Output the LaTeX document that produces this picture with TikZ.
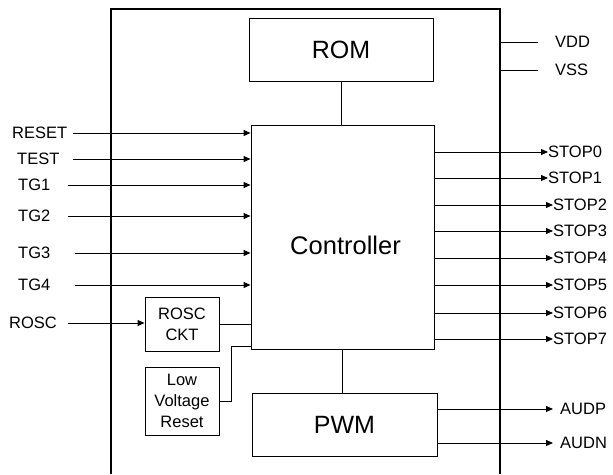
\documentclass[tikz,border=0pt]{standalone}
\usepackage{fontspec}
\setmainfont{Liberation Sans}
\usetikzlibrary{arrows.meta, positioning, calc}

\begin{document}
\begin{tikzpicture}[
  x=1pt, y=-1pt,
  block/.style={rectangle, draw, line width=0.9pt, inner sep=0pt, font=\fontsize{25}{28}\selectfont},
  small/.style={rectangle, draw, line width=0.9pt, inner sep=0pt, align=center, font=\fontsize{16.5}{21}\selectfont},
  pin/.style={inner sep=0pt, anchor=west, font=\fontsize{16.5}{19}\selectfont},
  wire/.style={line width=0.9pt},
  sig/.style={-{Triangle[length=7pt, width=6pt]}, line width=0.9pt}
]
\useasboundingbox (0,0) rectangle (613,474);

% chip outline, open at the bottom of the page
\coordinate (chipL) at (111,0);
\coordinate (chipR) at (500,0);
\draw[line width=1.6pt] (111,474) -- (111,9) -- (500,9) -- (500,474);

% main blocks
\node[block, minimum width=184pt, minimum height=63pt] (rom) at (341,49.5) {ROM};
\node[block, minimum width=183pt, minimum height=224pt] (ctrl) at (342.5,237) {};
\node[inner sep=0pt, font=\fontsize{25.5}{28}\selectfont] (ctrltxt) at (345.5,245) {Controller};
\node[block, minimum width=185pt, minimum height=63pt] (pwm) at (344.5,424.5) {PWM};
\node[small, minimum width=74pt, minimum height=54pt] (rosc) at (182,324) {ROSC\\CKT};
\node[small, minimum width=74pt, minimum height=68pt] (lvr) at (182,401) {Low\\Voltage\\Reset};

\draw[wire] (rom.south) -- (rom.south |- ctrl.north);
\draw[wire] (ctrl.south) -- (ctrl.south |- pwm.north);
\draw[wire] (rosc.east) -- (rosc.east -| ctrl.west);
\draw[wire] (lvr.east) -- ++(12,0) |- ([yshift=3pt]ctrl.south west);

% inputs on the left
\foreach \name/\txt/\y/\lx/\sx in {reset/RESET/133/12/73, test/TEST/159/17/73,
    tga/TG1/185/18/68, tgb/TG2/216/18/68, tgc/TG3/253/18/75, tgd/TG4/285/18/75}{
  \node[pin] (\name) at (\lx,\y) {\txt};
  \coordinate (\name-s) at (\sx,\y);
  \draw[sig] (\name-s) -- (\name-s -| ctrl.west);
}
\node[pin] (oscin) at (9,323) {ROSC};
\coordinate (oscin-s) at (68,323);
\draw[sig] (oscin-s) -- (oscin-s -| rosc.west);

% STOP outputs on the right
\foreach \i/\y/\tx in {0/152/547, 1/178/547, 2/205/552, 3/231/552,
    4/258/552, 5/285/552, 6/313/552, 7/339/552}{
  \node[pin] (stop\i) at (\tx+1,\y) {STOP\i};
  \coordinate (stop\i-s) at (0,\y);
  \draw[sig] (stop\i-s -| ctrl.east) -- (stop\i.west);
}

% supply pins
\node[pin] (vdd) at (555,42) {VDD};
\node[pin] (vss) at (555,70) {VSS};
\draw[wire] (chipR |- vdd) -- ([xshift=-17pt]vdd.west);
\draw[wire] (chipR |- vss) -- ([xshift=-17pt]vss.west);

% audio outputs
\node[pin] (audp) at (560,409) {AUDP};
\node[pin] (audn) at (560,443) {AUDN};
\draw[sig] (pwm.east |- audp) -- ([xshift=-7pt]audp.west);
\draw[sig] (pwm.east |- audn) -- ([xshift=-7pt]audn.west);

\end{tikzpicture}
\end{document}
